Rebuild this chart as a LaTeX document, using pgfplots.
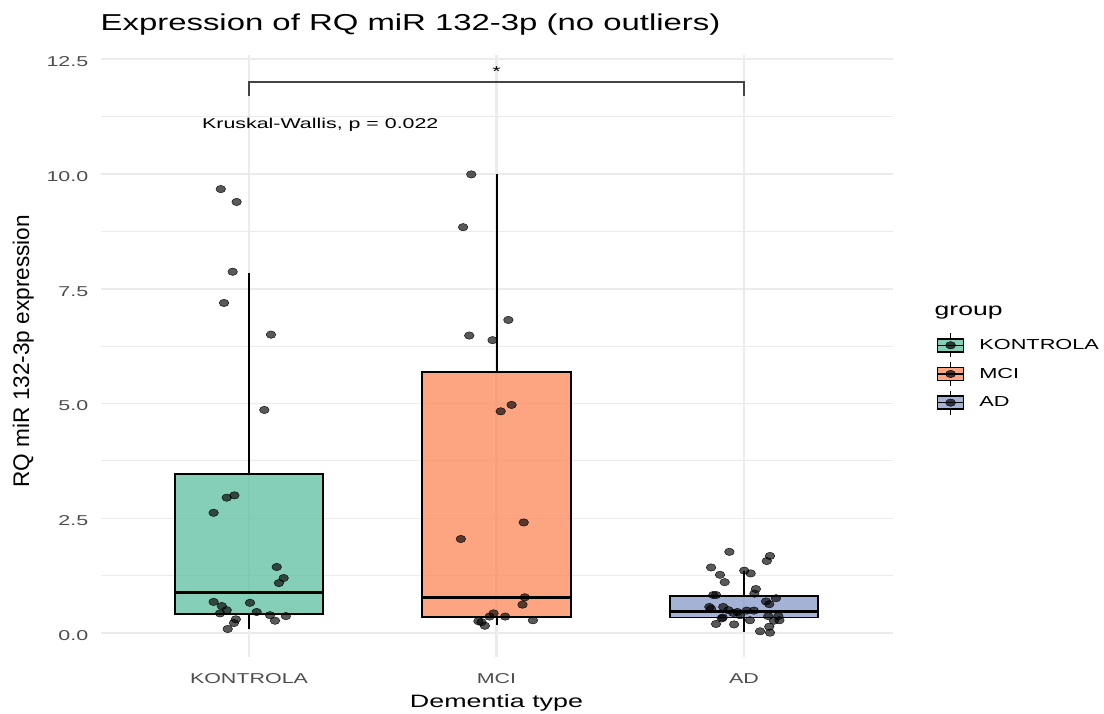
\documentclass[border=0pt]{standalone}
\usepackage{fontspec}
\setmainfont{Liberation Sans}
\newfontfamily\widefont[FakeStretch=1.5]{Liberation Sans}
\newfontfamily\titlefont[FakeStretch=1.43]{Liberation Sans}
\usepackage{pgfplots}
\usepackage{pgfplotstable}
\pgfplotsset{compat=1.18}
\usepgfplotslibrary{statistics}

\definecolor{setA}{HTML}{66C2A5}
\definecolor{setB}{HTML}{FC8D62}
\definecolor{setC}{HTML}{8DA0CB}
\definecolor{gridgray}{HTML}{EBEBEB}
\definecolor{ticktext}{HTML}{4D4D4D}
\definecolor{bracketgray}{HTML}{444444}

% jittered observations: x = group position + jitter, y = RQ value
\pgfplotstableread{
x y
0.886 9.67
0.950 9.39
0.934 7.87
0.899 7.19
1.089 6.50
1.062 4.86
0.910 2.95
0.941 3.00
0.857 2.62
1.112 1.44
1.140 1.20
1.121 1.09
0.857 0.68
0.890 0.59
0.910 0.50
0.883 0.43
1.004 0.66
1.031 0.46
1.085 0.39
1.149 0.37
1.105 0.27
0.947 0.30
0.939 0.22
0.914 0.09
}\kontrola

\pgfplotstableread{
x y
1.898 9.99
1.865 8.84
2.048 6.82
1.890 6.48
1.984 6.38
2.061 4.97
2.017 4.83
2.110 2.41
1.856 2.05
2.114 0.78
2.105 0.62
1.988 0.43
1.972 0.36
2.035 0.36
2.147 0.28
1.927 0.26
1.939 0.24
1.953 0.16
}\mci

\pgfplotstableread{
x y
2.941 1.77
3.105 1.68
3.092 1.57
2.867 1.43
3.001 1.36
3.027 1.30
2.903 1.27
2.922 1.11
3.048 0.96
3.042 0.86
2.876 0.83
2.887 0.83
3.129 0.76
3.089 0.69
3.102 0.63
2.860 0.57
2.867 0.53
2.916 0.57
2.937 0.50
2.957 0.44
2.973 0.46
3.011 0.49
3.040 0.49
2.984 0.39
2.914 0.34
3.098 0.37
3.139 0.37
3.024 0.28
3.121 0.27
2.887 0.20
2.960 0.19
3.143 0.28
3.102 0.14
3.065 0.04
3.105 0.01
2.910 0.32
}\ad

\pgfplotsset{
  boxkey/.style={legend image code/.code={
    \draw[black, line width=1.5pt] (13pt,-12pt) -- (13pt,-6.5pt);
    \draw[black, line width=1.5pt] (13pt,6.5pt) -- (13pt,12pt);
    \draw[black, line width=1.5pt, fill=#1, fill opacity=0.8] (0pt,-6.5pt) rectangle (26pt,6.5pt);
    \draw[black, line width=1.5pt] (0pt,0pt) -- (26pt,0pt);
    \fill[black, fill opacity=0.7] (13pt,0pt) ellipse [x radius=5pt, y radius=3.7pt];
  }},
  jitterpts/.style={only marks, mark=*, mark size=3.7pt,
    mark options={draw=none, fill=black, fill opacity=0.65, xscale=1.3}, forget plot},
  boxstyle/.style={draw=black, line width=1.8pt, fill=#1, fill opacity=0.8,
    boxplot/draw direction=y,
    boxplot/every box/.style={draw=black, line width=1.8pt, fill=#1, fill opacity=0.8},
    boxplot/every median/.style={line width=3pt, draw=black},
    boxplot/every whisker/.style={line width=2pt, draw=black},
    forget plot},
}

\begin{document}
\begin{tikzpicture}
\path[use as bounding box] (0,0) rectangle (1104pt,713pt);
\begin{axis}[
  at={(100.5pt,56pt)}, anchor=south west,
  scale only axis, width=792pt, height=602pt,
  xmin=0.4, xmax=3.6, ymin=-0.52, ymax=12.59,
  clip=false,
  axis line style={draw=none},
  major tick length=0pt, minor tick length=0pt,
  xtick={1,2,3}, xticklabels={KONTROLA,MCI,AD},
  ytick={0,2.5,5,7.5,10,12.5},
  yticklabels={0.0,2.5,5.0,7.5,10.0,12.5},
  minor ytick={1.25,3.75,6.25,8.75,11.25},
  xmajorgrids, ymajorgrids, yminorgrids,
  major grid style={color=gridgray, line width=1.6pt},
  minor grid style={color=gridgray, line width=0.9pt},
  x grid style={line width=2.4pt},
  xticklabel style={font=\widefont\fontsize{14.3}{16}\selectfont, text=ticktext,
    anchor=base, yshift=-26pt, inner sep=0pt},
  yticklabel style={font=\widefont\fontsize{14.3}{16}\selectfont, text=ticktext,
    anchor=east, xshift=-12pt, yshift=-2.5pt, inner sep=0pt},
  title={Expression of RQ miR 132-3p (no outliers)},
  title style={at={(axis description cs:0,1.03)}, anchor=base west, inner sep=0pt,
    font=\titlefont\fontsize{23}{27}\selectfont},
  xlabel={Dementia type},
  xlabel style={at={(axis description cs:0.5,-0.0847)}, anchor=base, inner sep=0pt,
    font=\widefont\fontsize{17.9}{21}\selectfont},
  ylabel={RQ miR 132-3p expression},
  ylabel style={at={(axis description cs:-0.090,0.508)}, anchor=base, inner sep=0pt,
    font=\fontsize{22.6}{26}\selectfont},
  legend cell align=left,
  legend style={at={(axis description cs:1.056,0.539)}, anchor=north west,
    draw=none, fill=none, inner sep=0pt, outer sep=0pt, row sep=3.2pt,
    font=\widefont\fontsize{14.5}{17}\selectfont,
    /tikz/every odd column/.append style={column sep=13pt}},
]
% boxes (whiskers span the range without outliers)
\addplot[boxstyle=setA, boxplot prepared={draw position=1, lower whisker=0.10,
  lower quartile=0.41, median=0.88, upper quartile=3.46, upper whisker=7.85,
  box extend=0.6, whisker extend=0}] coordinates {};
\addplot[boxstyle=setB, boxplot prepared={draw position=2, lower whisker=0.17,
  lower quartile=0.355, median=0.78, upper quartile=5.68, upper whisker=9.99,
  box extend=0.6, whisker extend=0}] coordinates {};
\addplot[boxstyle=setC, boxplot prepared={draw position=3, lower whisker=0.03,
  lower quartile=0.34, median=0.48, upper quartile=0.81, upper whisker=1.36,
  box extend=0.6, whisker extend=0}] coordinates {};

% individual samples
\addplot[jitterpts] table[x=x, y=y] {\kontrola};
\addplot[jitterpts] table[x=x, y=y] {\mci};
\addplot[jitterpts] table[x=x, y=y] {\ad};

% significance bracket and test annotation
\draw[bracketgray, line width=1.2pt] (axis cs:1,11.69) -- (axis cs:1,12.0)
  -- (axis cs:3,12.0) -- (axis cs:3,11.69);
\node[anchor=base, inner sep=0pt, font=\widefont\fontsize{14.3}{16}\selectfont]
  at (axis cs:2,12.13) {*};
\node[anchor=base west, inner sep=0pt, font=\widefont\fontsize{14.25}{16}\selectfont]
  at (axis cs:0.81,10.98) {Kruskal-Wallis, p = 0.022};

% legend
\node[anchor=base west, inner sep=0pt, font=\widefont\fontsize{17.7}{20}\selectfont]
  at (axis description cs:1.053,0.568) {group};
\addlegendimage{boxkey=setA}
\addlegendentry{KONTROLA}
\addlegendimage{boxkey=setB}
\addlegendentry{MCI}
\addlegendimage{boxkey=setC}
\addlegendentry{AD}
\end{axis}
\end{tikzpicture}
\end{document}
